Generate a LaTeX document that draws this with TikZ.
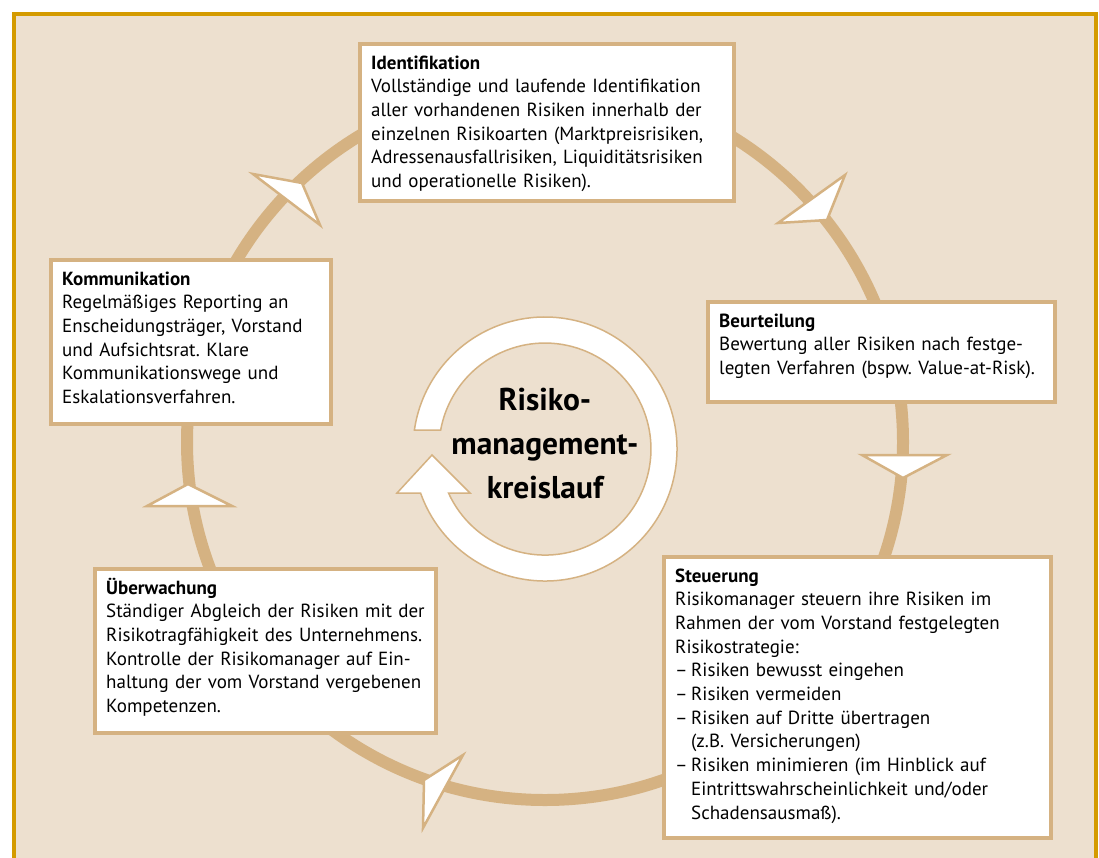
\documentclass[tikz,border=0pt]{standalone}
\usepackage{fontspec}
\setmainfont{PT Sans}
\frenchspacing
\definecolor{bg}{HTML}{EDE0CF}
\definecolor{tan}{HTML}{D5B282}
\definecolor{gold}{HTML}{D49B00}
\newcommand\myitem{–\hspace{0.18em}}
\tikzset{
  ring/.style={draw=tan, line width=12pt},
  arrowhd/.style={fill=white, draw=tan, line width=2.5pt, line join=miter},
  infobox/.style={draw=tan, fill=white, line width=4pt, rectangle, inner sep=0pt, outer sep=0pt, anchor=north west},
  infotext/.style={anchor=base west, inner sep=0pt, text width=420pt, align=left,
    font=\fontsize{19}{23.7}\selectfont, xshift=11pt, yshift=-25pt},
  centertext/.style={align=center, inner sep=0pt, font=\bfseries\fontsize{31.5}{44}\selectfont},
}
\begin{document}
\begin{tikzpicture}[x=1pt,y=-1pt]
\useasboundingbox (0,0) rectangle (1099,857);
\clip (0,0) rectangle (1099,857);
\fill[white] (0,0) rectangle (1099,857);
\draw[gold, fill=bg, line width=3.5pt] (14,14) rectangle (1096,900);
% big ring
\draw[ring] (545,442) circle[radius=358];
% arrowheads on the ring
\draw[arrowhd] (253,174) -- (302,183) -- (320,225) -- cycle;
\draw[arrowhd] (845,175) -- (827,220) -- (778,223) -- cycle;
\draw[arrowhd] (862,455) -- (947,455) -- (903,478) -- cycle;
\draw[arrowhd] (463,755) -- (424,780) -- (423,828) -- cycle;
\draw[arrowhd] (147,506) -- (232,506) -- (188,484) -- cycle;
% central circular arrow
\draw[tan, fill=white, line width=1.5pt]
  (545,449) ++(188.25:132) arc[start angle=188.25, end angle=520.53, radius=132]
  -- (397,493) -- (432,455) -- (470,493) -- (448.5,493)
  arc[start angle=515.5, end angle=190.3, radius=106] -- cycle;
\node[centertext] (center) at (545,444) {Risiko-\\management-\\kreislauf};
% boxes
\node[infobox, minimum width=374pt, minimum height=157pt] (ident) at (360,44) {};
\node[infotext] (identT) at (ident.north west) {\textbf{Identifikation}\\
Vollständige und laufende Identifikation\\
aller vorhandenen Risiken innerhalb der\\
einzelnen Risikoarten (Marktpreisrisiken,\\
Adressenausfallrisiken, Liquiditätsrisiken\\
und operationelle Risiken).};
\node[infobox, minimum width=280pt, minimum height=164pt] (komm) at (51,260) {};
\node[infotext] (kommT) at (komm.north west) {\textbf{Kommunikation}\\
Regelmäßiges Reporting an\\
Enscheidungsträger, Vorstand\\
und Aufsichtsrat. Klare\\
Kommunikationswege und\\
Eskalationsverfahren.};
\node[infobox, minimum width=347pt, minimum height=100pt] (beurt) at (708,302) {};
\node[infotext] (beurtT) at (beurt.north west) {\textbf{Beurteilung}\\
Bewertung aller Risiken nach festge-\\
legten Verfahren (bspw. Value-at-Risk).};
\node[infobox, minimum width=387pt, minimum height=281pt] (steu) at (664,557) {};
\node[infotext] (steuT) at (steu.north west) {\textbf{Steuerung}\\
Risikomanager steuern ihre Risiken im\\
Rahmen der vom Vorstand festgelegten\\
Risikostrategie:\\
\myitem Risiken bewusst eingehen\\
\myitem Risiken vermeiden\\
\myitem Risiken auf Dritte übertragen\\
\phantom{\myitem}(z.B. Versicherungen)\\
\myitem Risiken minimieren (im Hinblick auf\\
\phantom{\myitem}Eintrittswahrscheinlichkeit und/oder\\
\phantom{\myitem}Schadensausmaß).};
\node[infobox, minimum width=341pt, minimum height=164pt] (ueber) at (95,569) {};
\node[infotext] (ueberT) at (ueber.north west) {\textbf{Überwachung}\\
Ständiger Abgleich der Risiken mit der\\
Risikotragfähigkeit des Unternehmens.\\
Kontrolle der Risikomanager auf Ein-\\
haltung der vom Vorstand vergebenen\\
Kompetenzen.};
\end{tikzpicture}
\end{document}
